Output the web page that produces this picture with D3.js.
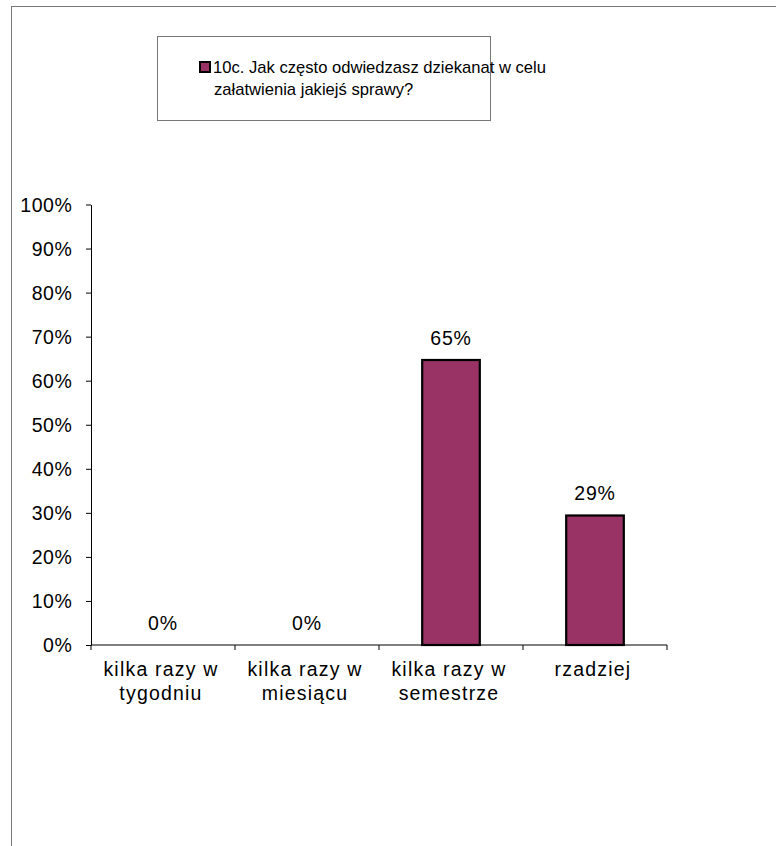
<!DOCTYPE html>
<html><head><meta charset="utf-8">
<script src="https://cdn.jsdelivr.net/npm/d3@7"></script>
<style>body{margin:0;background:#fff}svg{display:block}text{font-family:"Liberation Sans",Arial,sans-serif;fill:#000}</style>
</head><body>
<svg id="c" width="776" height="846"></svg>
<script>
const categories = [["kilka razy w","tygodniu"],["kilka razy w","miesiącu"],["kilka razy w","semestrze"],["rzadziej"]];
const values = [0, 0, 0.647, 0.294];
const seriesName = ["10c. Jak często odwiedzasz dziekanat w celu","załatwienia jakiejś sprawy?"];
const yTicks = [0,0.1,0.2,0.3,0.4,0.5,0.6,0.7,0.8,0.9,1.0];

const FONT = "Liberation Sans, Arial, sans-serif";
const svg = d3.select("#c");
svg.append("rect").attr("x",11.5).attr("y",6.5).attr("width",800).attr("height",900)
  .attr("fill","#fff").attr("stroke","#777").attr("stroke-width",1);

const x = d3.scaleBand().domain(d3.range(categories.length)).range([91,667]);
const y = d3.scaleLinear().domain([0,1]).range([645,204.5]);

// y axis
const ya = svg.append("g").attr("transform","translate(91,0)")
  .call(d3.axisLeft(y).tickValues(yTicks).tickFormat(d3.format(".0%")).tickSize(5).tickPadding(13.5).tickSizeOuter(0));
ya.select(".domain").attr("stroke","#000");
ya.selectAll(".tick line").attr("stroke","#000");
ya.selectAll("text").attr("font-size",19.5).attr("letter-spacing",0.6)
  .attr("font-family",FONT).attr("fill","#000").attr("dy","0.35em");

// x axis
const xa = svg.append("g").attr("transform","translate(0,645)");
xa.append("line").attr("x1",91).attr("x2",667).attr("stroke","#000");
const edges = d3.range(categories.length).map(i=>x(i)).concat([x.range()[1]]);
xa.selectAll("line.t").data(edges).join("line").attr("class","t")
  .attr("x1",d=>d).attr("x2",d=>d).attr("y1",0).attr("y2",5).attr("stroke","#000");
xa.selectAll("text.cl").data(categories).join("text").attr("class","cl")
  .attr("text-anchor","middle").attr("font-size",19.5).attr("letter-spacing",1.2)
  .attr("transform",(d,i)=>`translate(${x(i)+x.bandwidth()/2-2},0)`)
  .each(function(d){
    d3.select(this).selectAll("tspan").data(d).join("tspan")
      .attr("x",0).attr("y",(t,j)=>31+j*24).text(t=>t);
  });

// bars
const bw = x.bandwidth()*0.4;
svg.selectAll("rect.bar").data(values.map((v,i)=>({v,i})).filter(d=>d.v>0)).join("rect").attr("class","bar")
  .attr("x",d=>x(d.i)+x.bandwidth()/2-bw/2).attr("width",bw)
  .attr("y",d=>y(d.v)).attr("height",d=>y(0)-y(d.v))
  .attr("fill","#993366").attr("stroke","#000").attr("stroke-width",2.2);

// value labels
svg.selectAll("text.vl").data(values).join("text").attr("class","vl")
  .attr("text-anchor","middle").attr("font-size",19.5).attr("letter-spacing",0.8)
  .attr("x",(d,i)=>x(i)+x.bandwidth()/2).attr("y",d=>y(d)-15)
  .text(d=>d3.format(".0%")(d));

// legend
const lg = svg.append("g");
lg.append("rect").attr("x",157.5).attr("y",36.5).attr("width",333).attr("height",84)
  .attr("fill","#fff").attr("stroke","#777");
lg.append("rect").attr("x",200).attr("y",62).attr("width",10).attr("height",10)
  .attr("fill","#993366").attr("stroke","#000").attr("stroke-width",2);
lg.selectAll("text").data(seriesName).join("text").attr("font-size",16.6)
  .attr("x",(d,i)=>i?214:213).attr("y",(d,i)=>73+i*22).text(d=>d);
</script>
</body></html>
